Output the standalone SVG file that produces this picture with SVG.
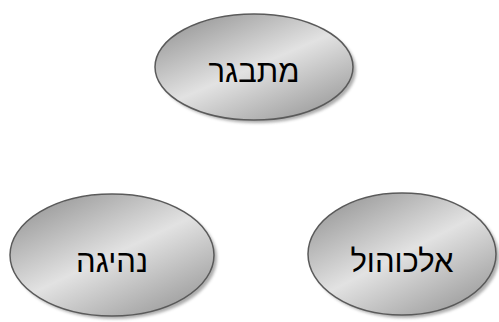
<svg xmlns="http://www.w3.org/2000/svg" width="499" height="322" viewBox="0 0 499 322">
<style>
.node ellipse.body{fill:url(#g);stroke:#5a5a5a;stroke-width:1.5}
.node ellipse.sh{fill:#8a8a8a;opacity:0.7;filter:url(#blur)}
.node text{font-family:"Liberation Sans","DejaVu Sans",sans-serif;font-size:31px;fill:#000;text-anchor:middle}
</style>
<defs>
<linearGradient id="g" x1="0.1" y1="0" x2="0.9" y2="1">
<stop offset="0" stop-color="#929292"/>
<stop offset="0.5" stop-color="#e2e2e2"/>
<stop offset="1" stop-color="#959595"/>
</linearGradient>
<filter id="blur" x="-10%" y="-10%" width="120%" height="120%"><feGaussianBlur stdDeviation="1.5"/></filter>
</defs>
<g id="connectors"></g>
<g id="n1" class="node">
<ellipse class="sh" cx="257" cy="70" rx="99" ry="53"/>
<ellipse class="body" cx="254" cy="67" rx="99" ry="53"/>
<text x="254" y="82">מתבגר</text>
</g>
<g id="n2" class="node">
<ellipse class="sh" cx="115" cy="258" rx="102" ry="61"/>
<ellipse class="body" cx="112" cy="255" rx="102" ry="61"/>
<text x="112" y="272">נהיגה</text>
</g>
<g id="n3" class="node">
<ellipse class="sh" cx="405" cy="257" rx="94" ry="61"/>
<ellipse class="body" cx="402" cy="254" rx="94" ry="61"/>
<text x="402" y="272">אלכוהול</text>
</g>
</svg>
